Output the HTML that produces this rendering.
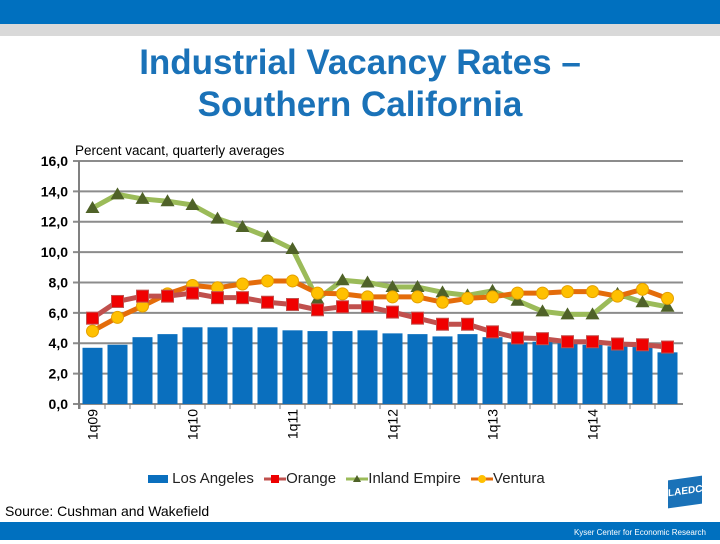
<!DOCTYPE html>
<html><head><meta charset="utf-8"><style>
body{margin:0;width:720px;height:540px;overflow:hidden;background:#fff;font-family:"Liberation Sans",sans-serif;position:relative}
.abs{position:absolute}
</style></head><body>
<div class="abs" style="left:0;top:0;width:720px;height:24px;background:#0070bf"></div>
<div class="abs" style="left:0;top:24px;width:720px;height:12px;background:#d9d9d9"></div>
<div class="abs" style="left:0;top:42px;width:720px;text-align:center;color:#1a72b8;font-weight:bold;font-size:35px;line-height:42px">Industrial Vacancy Rates –<br>Southern California</div>
<svg class="abs" style="left:0;top:0" width="720" height="540">
<g id="grid"></g><g id="bars"></g><g id="lines"></g><g id="axes"></g>
<text x="75" y="155" font-size="13.5" fill="#000">Percent vacant, quarterly averages</text>
</svg>
<div class="abs" style="left:148px;top:470px;font-size:15px;color:#222;white-space:nowrap">
<span><span style="display:inline-block;width:20px;height:8px;background:#0a6fbe;vertical-align:middle"></span> Los Angeles</span>
<span style="margin-left:6px"><svg width="22" height="10" style="vertical-align:middle"><line x1="0" y1="5" x2="22" y2="5" stroke="#c0504d" stroke-width="3"/><rect x="7" y="1" width="8" height="8" fill="#e00"/></svg>Orange</span>
<span style="margin-left:6px"><svg width="22" height="10" style="vertical-align:middle"><line x1="0" y1="5" x2="22" y2="5" stroke="#9bbb59" stroke-width="3"/><polygon points="11,1 15,8 7,8" fill="#4f6228"/></svg>Inland Empire</span>
<span style="margin-left:6px"><svg width="22" height="10" style="vertical-align:middle"><line x1="0" y1="5" x2="22" y2="5" stroke="#e46c0a" stroke-width="3"/><circle cx="11" cy="5" r="4" fill="#ffc000"/></svg>Ventura</span>
</div>
<div class="abs" style="left:5px;top:503px;font-size:14px;color:#000">Source: Cushman and Wakefield</div>
<div class="abs" style="left:668px;top:478px;width:34px;height:28px;background:#1a72b8;transform:skewY(-8deg);color:#fff;font-size:10px;font-weight:bold;text-align:center;line-height:28px">LAEDC</div>
<div class="abs" style="left:0;top:522px;width:720px;height:18px;background:#0070bf;color:#fff;font-size:8px;text-align:right;line-height:22px"><span style="margin-right:14px">Kyser Center for Economic Research</span></div>
<script>
const quarters=["1q09","2q09","3q09","4q09","1q10","2q10","3q10","4q10","1q11","2q11","3q11","4q11","1q12","2q12","3q12","4q12","1q13","2q13","3q13","4q13","1q14","2q14","3q14","4q14"];
const losAngeles=[3.7,3.9,4.4,4.6,5.05,5.05,5.05,5.05,4.85,4.8,4.8,4.85,4.65,4.6,4.45,4.6,4.4,4.05,4.1,4.0,3.9,3.8,3.75,3.4];
const orange=[5.65,6.75,7.1,7.1,7.3,7.0,7.0,6.7,6.55,6.2,6.4,6.4,6.05,5.65,5.25,5.25,4.75,4.35,4.3,4.1,4.1,3.95,3.9,3.75];
const inlandEmpire=[12.9,13.8,13.5,13.35,13.1,12.2,11.65,11.0,10.2,6.9,8.15,8.0,7.7,7.7,7.35,7.15,7.45,6.8,6.1,5.9,5.9,7.25,6.7,6.4];
const ventura=[4.8,5.7,6.45,7.25,7.8,7.65,7.9,8.1,8.1,7.3,7.25,7.05,7.05,7.05,6.7,6.95,7.05,7.3,7.3,7.4,7.4,7.1,7.55,6.95];
const yTicks=[0,2,4,6,8,10,12,14,16];
const NS="http://www.w3.org/2000/svg";
const X0=80,STEP=25,Y0=404,PX=15.19;
const xc=i=>X0+STEP*i+12.5, y=v=>Y0-v*PX;
function mk(tag,attrs,parent){const e=document.createElementNS(NS,tag);for(const k in attrs)e.setAttribute(k,attrs[k]);document.getElementById(parent).appendChild(e);return e;}
yTicks.forEach(t=>{
 const g=mk('line',{x1:73,x2:683,y1:y(t),y2:y(t),stroke:'#8c8c8c','stroke-width':2},'grid');
 
 
 const tx=mk('text',{x:68,y:y(t)+5,'text-anchor':'end','font-size':14,'font-weight':'bold',fill:'#000'},'axes');
 tx.textContent=t.toFixed(1).replace('.',',');
 
 
});
mk('line',{x1:79,x2:79,y1:y(16),y2:Y0+5,stroke:'#808080','stroke-width':2},'axes');
quarters.forEach((q,i)=>{
 mk('line',{x1:X0+STEP*i,x2:X0+STEP*i,y1:Y0,y2:Y0+5,stroke:'#808080','stroke-width':1},'axes');
 if(q.startsWith('1q')){
  const t=mk('text',{transform:`translate(${xc(i)+5},${Y0+5}) rotate(-90)`,'text-anchor':'end','font-size':14,fill:'#000'},'axes');
  t.textContent=q;
  
  
 }
 const b=mk('rect',{x:xc(i)-10,y:y(losAngeles[i]),width:20,height:losAngeles[i]*PX,fill:'#0a6fbe'},'bars');
 
 
});
function series(vals,color,marker,fill,stroke,name){
 const p=mk('polyline',{points:vals.map((v,i)=>xc(i)+','+y(v)).join(' '),fill:'none',stroke:color,'stroke-width':5,'stroke-linejoin':'round'},'lines');
 
 
 vals.forEach((v,i)=>{
  let m;const cx=xc(i),cy=y(v);
  if(marker==='sq')m=mk('rect',{x:cx-6,y:cy-6,width:12,height:12,fill:fill,stroke:stroke},'lines');
  else if(marker==='tri')m=mk('polygon',{points:`${cx},${cy-7} ${cx+7},${cy+5} ${cx-7},${cy+5}`,fill:fill},'lines');
  else m=mk('circle',{cx:cx,cy:cy,r:6,fill:fill,stroke:stroke},'lines');
  
  
 });
}
series(inlandEmpire,'#9bbb59','tri','#4f6228','none','inland-empire');
series(ventura,'#e46c0a','circ','#ffc000','#e4a000','ventura');
series(orange,'#c0504d','sq','#f00000','#c0504d','orange');
</script>
</body></html>
